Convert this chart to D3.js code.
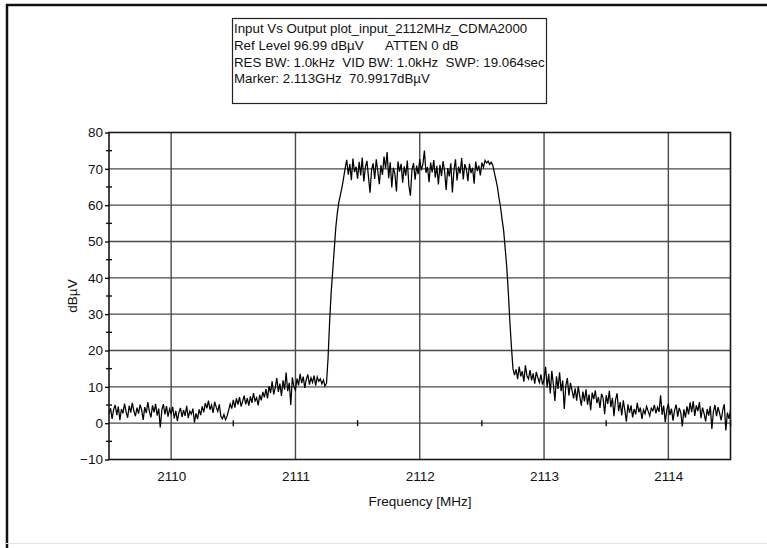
<!DOCTYPE html>
<html>
<head>
<meta charset="utf-8">
<script src="https://cdn.jsdelivr.net/npm/d3@7"></script>
<style>
  html, body { margin: 0; padding: 0; background: #fff; }
  svg { display: block; }
  text { font-family: "Liberation Sans", Arial, sans-serif; fill: #111; }
</style>
</head>
<body>
<svg id="chart" width="767" height="548"></svg>
<script>
// Sweep settings: trace samples are evenly spaced from start to stop frequency (MHz)
const sweepStart = 2109.5;
const sweepStop = 2114.5;

// Measured level per sweep sample, dBµV
const traceLevels = [
  2.5, 4.1, 1.2, 3.8, 5.0, 2.2, 4.6, 0.8, 3.9, 2.7, 5.4, 3.1, 1.5, 4.8, 2.9, 5.6, 3.4, 1.9, 4.3, 2.6,
  5.1, 3.7, 0.9, 4.4, 2.8, 5.8, 3.2, 1.6, 4.9, 3.0, 5.3, 2.1, 4.0, -1.2, 3.6, 5.2, 2.4, 4.7, 1.8, 3.9,
  2.6, 4.5, 1.3, 3.4, 0.6, 2.9, 4.2, 1.7, 3.6, 2.0, 4.8, 1.4, 3.3, 2.5, 4.0, 0.2, 2.7, 1.1, 3.8, 2.2,
  4.6, 3.0, 5.5, 4.1, 6.2, 3.7, 5.0, 2.8, 5.9, 4.4, 3.2, 5.2, 1.9, 1.2, 2.4, 0.9, 2.0, 3.6, 5.3, 4.0,
  6.4, 4.3, 6.8, 5.1, 7.2, 4.6, 6.0, 7.6, 5.2, 6.9, 4.8, 7.4, 5.6, 8.3, 6.1, 7.0, 4.9, 7.8, 6.3, 8.6,
  7.1, 9.4, 6.8, 10.2, 8.3, 11.5, 7.9, 9.8, 12.4, 8.6, 10.9, 7.5, 11.8, 9.2, 13.9, 8.8, 11.1, 5.0, 12.6, 10.0,
  9.1, 12.3, 10.4, 13.6, 11.0, 12.8, 9.7, 12.1, 13.4, 10.6, 12.5, 11.2, 13.1, 10.3, 12.7, 11.5, 12.2, 10.8, 11.9, 10.2, 11.0,
  18, 28, 36, 42, 48, 54, 58, 61, 63, 65, 67.5,
  70.2, 72.5, 68.4, 71.3, 66.9, 72.8, 69.1, 70.6, 67.3, 71.9, 68.2, 73.1, 66.5, 70.4, 72.2, 67.8, 63.4, 69.7, 71.5,
  67.2, 72.6, 69.4, 65.8, 71.0, 68.3, 73.4, 70.1, 74.6, 67.4, 71.8, 64.9, 70.3, 68.6, 63.8, 72.0, 69.2, 71.4, 66.2, 70.7,
  68.1, 72.3, 65.4, 62.6, 69.8, 71.6, 67.0, 70.9, 68.5, 72.7, 69.6, 71.2, 75.0, 68.9, 70.5, 66.3, 71.7, 69.0, 72.4, 67.6,
  70.8, 65.7, 71.1, 68.0, 72.1, 69.3, 64.2, 70.2, 67.9, 71.5, 63.5, 69.5, 72.6, 66.8, 70.6, 68.7, 73.0, 67.1, 71.3, 69.9,
  66.6, 71.4, 68.8, 70.3, 65.9, 72.0, 69.4, 70.9, 68.2, 71.7, 70.4, 72.3, 71.6, 72.1, 71.2, 71.8,
  71.0, 69.0, 67.0, 65.0, 62.0, 59.5, 56.0, 53.0, 48.0, 43.0, 36.0, 28.0, 21.0,
  15.0, 13.2, 14.8, 12.1, 15.6, 12.9, 14.3, 11.4, 15.9, 13.0, 12.2, 14.6, 11.8, 13.7, 10.9, 14.1, 12.5, 11.2, 13.4, 10.6,
  12.0, 15.5, 9.8, 13.6, 8.2, 14.4, 10.7, 6.1, 12.9, 9.4, 14.0, 8.8, 11.7, 3.9, 10.3, 12.4, 7.6, 11.1, 9.0, 6.8,
  9.6, 6.2, 10.1, 7.4, 4.8, 8.7, 6.0, 9.3, 5.1, 7.9, 3.6, 8.4, 6.6, 9.0, 5.5, 7.2, 4.2, 8.1, 6.9, 2.5,
  7.7, 5.3, 8.9, 4.4, 7.0, 1.9, 6.4, 8.2, 3.3, 5.8,
  2.1, 6.3, 3.5, 0.4, 5.2, 2.8, 4.9, 1.6, 3.9, 2.4, 5.6, 3.0, 4.3, 1.2, 3.7, 2.6, 4.6, 3.3, 2.0, 4.1,
  3.4, 5.0, 2.7, 4.4, 3.1, 7.7, 2.3, 4.8, 0.3, 3.6,
  5.4, 2.2, 4.0, 0.7, 3.5, 5.1, 1.8, 4.2, 2.9, -0.9, 3.8, 1.5, 4.6, 2.4, 5.7, 3.0, 6.1, 2.0, 4.9, 3.3,
  5.8, 1.4, 4.3, 2.6, 0.5, 3.9, 2.1, 4.7, -1.6, 3.2, 5.0, 1.9, 4.4, 2.7, 0.8, 3.6, 5.2, -2.0, 2.9, 1.2, 3.5
];

// Axis ticks
const freqTicks = [2110, 2111, 2112, 2113, 2114];
const freqMinorTicks = [2110.5, 2111.5, 2112.5, 2113.5, 2114.5];
const levelTicks = [-10, 0, 10, 20, 30, 40, 50, 60, 70, 80];
const levelMinorTicks = [-5, 5, 15, 25, 35, 45, 55, 65, 75];

// Header box lines
const headerLines = [
  ["Input Vs Output plot_input_2112MHz_CDMA2000"],
  ["Ref Level 96.99 dBµV", "ATTEN 0 dB"],
  ["RES BW: 1.0kHz  VID BW: 1.0kHz  SWP: 19.064sec"],
  ["Marker: 2.113GHz  70.9917dBµV"]
];
const xTitle = "Frequency [MHz]";
const yTitle = "dBµV";

const svg = d3.select("#chart");

// Outer window frame
svg.append("line").attr("x1", 7).attr("x2", 7).attr("y1", 4).attr("y2", 548)
  .attr("stroke", "#111").attr("stroke-width", 2.5);
svg.append("line").attr("x1", 6).attr("x2", 767).attr("y1", 5).attr("y2", 5)
  .attr("stroke", "#111").attr("stroke-width", 2.5);
svg.append("line").attr("x1", 6).attr("x2", 767).attr("y1", 543.5).attr("y2", 543.5)
  .attr("stroke", "#e2e2e2").attr("stroke-width", 1);

const plot = { left: 109, right: 730.5, top: 132.5, bottom: 459.5 };

const x = d3.scaleLinear().domain([sweepStart, sweepStop]).range([plot.left, plot.right]);
const y = d3.scaleLinear().domain([-10, 80]).range([plot.bottom, plot.top]);
const sampleFreq = d3.scaleLinear().domain([0, traceLevels.length - 1]).range([sweepStart, sweepStop]);

// Grid
const grid = svg.append("g");
grid.selectAll("line.h").data(levelTicks.slice(1, -1)).join("line")
  .attr("x1", plot.left).attr("x2", plot.right)
  .attr("y1", d => y(d)).attr("y2", d => y(d))
  .attr("stroke", "#4a4a4a").attr("stroke-width", 1.4);
grid.selectAll("line.v").data(freqTicks).join("line")
  .attr("x1", d => x(d)).attr("x2", d => x(d))
  .attr("y1", plot.top).attr("y2", plot.bottom)
  .attr("stroke", "#4a4a4a").attr("stroke-width", 1.4);

// Trace
const line = d3.line()
  .x((d, i) => x(sampleFreq(i)))
  .y(d => y(d));
svg.append("path").datum(traceLevels)
  .attr("d", line)
  .attr("fill", "none")
  .attr("stroke", "#000")
  .attr("stroke-width", 1.25)
  .attr("stroke-linejoin", "miter");

// Plot border
svg.append("rect")
  .attr("x", plot.left).attr("y", plot.top)
  .attr("width", plot.right - plot.left).attr("height", plot.bottom - plot.top)
  .attr("fill", "none").attr("stroke", "#1a1a1a").attr("stroke-width", 1.6);

// Y axis
const yAxis = d3.axisLeft(y).tickValues(levelTicks).tickSize(4).tickPadding(2).tickFormat(d3.format("d"));
const gy = svg.append("g").attr("transform", `translate(${plot.left},0)`).call(yAxis);
gy.select(".domain").remove();
gy.selectAll(".tick line").attr("stroke", "#111").attr("stroke-width", 1.4);
gy.selectAll(".tick text").attr("font-size", "13.5px").attr("fill", "#222")
  .style("font-family", "'Liberation Sans', Arial, sans-serif");
svg.append("g").selectAll("line").data(levelMinorTicks).join("line")
  .attr("x1", plot.left - 3).attr("x2", plot.left + 3)
  .attr("y1", d => y(d)).attr("y2", d => y(d))
  .attr("stroke", "#111").attr("stroke-width", 1.4);

// X axis labels
const xAxis = d3.axisBottom(x).tickValues(freqTicks).tickSize(0).tickPadding(12).tickFormat(d3.format("d"));
const gx = svg.append("g").attr("transform", `translate(0,${plot.bottom})`).call(xAxis);
gx.select(".domain").remove();
gx.selectAll(".tick text").attr("font-size", "13.5px").attr("fill", "#222")
  .style("font-family", "'Liberation Sans', Arial, sans-serif");
svg.append("g").selectAll("line").data(freqMinorTicks).join("line")
  .attr("x1", d => x(d)).attr("x2", d => x(d))
  .attr("y1", y(0) - 3).attr("y2", y(0) + 3)
  .attr("stroke", "#111").attr("stroke-width", 1.4);

// Axis titles
svg.append("text").attr("x", 420).attr("y", 506).attr("text-anchor", "middle")
  .attr("font-size", "13.5px").attr("fill", "#222").text(xTitle);
svg.append("text").attr("transform", `translate(77,${y(35)}) rotate(-90)`)
  .attr("text-anchor", "middle").attr("font-size", "13.5px").attr("fill", "#222").text(yTitle);

// Header box
const box = { x: 232, y: 18, w: 314, h: 85 };
svg.append("rect").attr("x", box.x + 0.5).attr("y", box.y + 0.5)
  .attr("width", box.w).attr("height", box.h)
  .attr("fill", "#fff").attr("stroke", "#222").attr("stroke-width", 1.2);
const header = svg.append("g");
headerLines.forEach((parts, i) => {
  const t = header.append("text")
    .attr("x", 234).attr("y", 33 + i * 16.8)
    .attr("font-size", "13.3px").attr("fill", "#111")
    .style("white-space", "pre");
  parts.forEach((p, j) => {
    const s = t.append("tspan").text(p);
    if (j > 0) s.attr("x", 385);
  });
});
</script>
</body>
</html>
